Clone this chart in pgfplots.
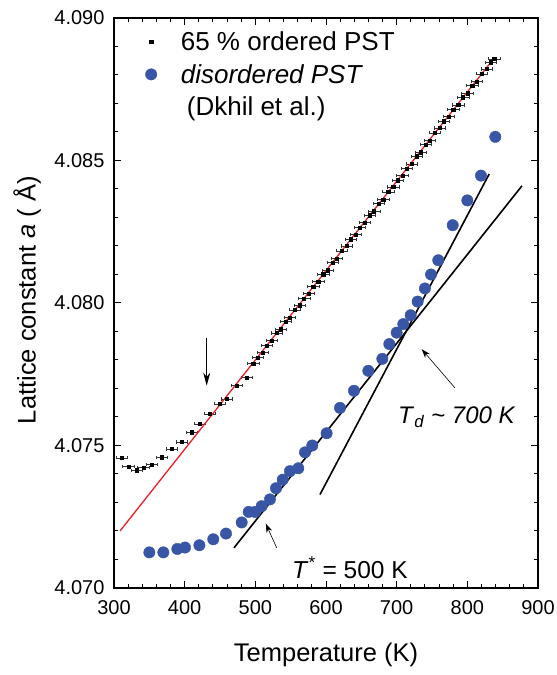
\documentclass[border=0pt]{standalone}
\usepackage{fontspec}
\setmainfont{Liberation Sans}
\usepackage{pgfplots}
\pgfplotsset{compat=1.18}
\usetikzlibrary{arrows.meta}
\definecolor{dotblue}{RGB}{56,85,166}
\definecolor{fitred}{RGB}{235,30,36}

\begin{document}
\begin{tikzpicture}
\begin{axis}[
  at={(114pt,87pt)}, anchor=south west,
  width=424pt, height=570pt, scale only axis,
  xmin=300, xmax=900, ymin=4.070, ymax=4.090,
  xtick={300,400,...,900},
  ytick={4.070,4.075,4.080,4.085,4.090},
  yticklabels={4.070,4.075,4.080,4.085,4.090},
  minor x tick num=4, minor y tick num=4,
  tick align=inside,
  major tick length=7pt, minor tick length=4pt,
  axis line style={line width=1.3pt},
  every tick/.style={black, line width=1pt},
  /pgf/number format/assume math mode=true,
  scaled y ticks=false,
  ticklabel style={font=\fontsize{20}{23}\selectfont},
  xticklabel style={yshift=-9pt},
  yticklabel style={xshift=-6pt},
  label style={font=\fontsize{25.5}{29}\selectfont},
  xlabel={Temperature (K)},
  ylabel={Lattice constant \textit{a} ( Å)},
  xlabel style={at={(axis description cs:0.5,-0.1175)}, anchor=center},
  ylabel style={at={(axis description cs:-0.205,0.505)}, anchor=center},
  legend style={draw=none, fill=none, font=\fontsize{26}{30}\selectfont,
    at={(axis description cs:0.06,0.983)}, anchor=north west,
    column sep=22pt, row sep=8pt},
  legend cell align=left,
]
% 65 % ordered PST
\addplot[only marks, mark=square*, mark size=1.6pt, black,
  error bars/.cd, x dir=both, x fixed=8,
  error bar style={line width=0.5pt, black!80}]
  coordinates {
  (310.9,4.07457) (320.3,4.07427) (332.0,4.07413) (341.5,4.07422)
  (353.3,4.07434) (367.5,4.07459) (381.6,4.07488) (395.8,4.07512)
  (409.9,4.07547) (421.7,4.07576) (435.8,4.07611) (450.0,4.07646)
  (459.4,4.07663) (473.6,4.07710) (487.7,4.07739) (497,4.07788)
  (503,4.07809) (510,4.07826) (516,4.07850) (523,4.07868)
  (530,4.07895) (536,4.07908) (543,4.07935) (549,4.07949)
  (556,4.07976) (563,4.07992) (569,4.08016) (576,4.08034)
  (582,4.08058) (589,4.08075) (596,4.08101) (602,4.08115)
  (609,4.08142) (615,4.08156) (622,4.08183) (629,4.08200)
  (635,4.08224) (642,4.08241) (648,4.08265) (655,4.08282)
  (662,4.08308) (668,4.08322) (675,4.08349) (681,4.08363)
  (688,4.08390) (695,4.08407) (701,4.08431) (708,4.08448)
  (714,4.08472) (721,4.08488) (728,4.08515) (734,4.08529)
  (741,4.08556) (747,4.08570) (754,4.08597) (761,4.08614)
  (767,4.08638) (774,4.08655) (780,4.08679) (787,4.08695)
  (794,4.08722) (800,4.08736) (807,4.08763) (813,4.08777)
  (820,4.08804) (827,4.08821) (833,4.08845) (838,4.08857)
  };
\addlegendentry{65 \% ordered PST}
% disordered PST (Dkhil et al.)
\addplot[only marks, mark=*, mark size=5.7pt, dotblue]
  coordinates {
  (350.0,4.07125) (369.8,4.07125) (389.6,4.07137) (400.5,4.07142)
  (420.8,4.07150) (440.5,4.07171) (458.5,4.07191) (480.7,4.07230)
  (490.6,4.07267) (499.5,4.07267) (509.0,4.07287) (520.7,4.07311)
  (529.2,4.07350) (538.7,4.07380) (549.0,4.07410) (560.8,4.07420)
  (570.3,4.07476) (580.6,4.07500) (600.9,4.07543) (619.8,4.07632)
  (639.6,4.07692) (659.9,4.07762) (679.7,4.07804) (689.6,4.07856)
  (700.0,4.07896) (709.4,4.07926) (719.8,4.07957) (729.7,4.08005)
  (740.0,4.08051) (748.6,4.08100) (758.9,4.08150) (779.3,4.08273)
  (800.0,4.08360) (819.3,4.08447) (839.6,4.08583)
  };
\addlegendentry{\textit{disordered PST}}
\addlegendimage{empty legend}
\addlegendentry{\hspace{6pt}(Dkhil et al.)}
% linear fit of ordered sample
\addplot[fitred, line width=1.3pt, forget plot]
  coordinates {(308.5,4.07200) (838.2,4.08860)};
% tangents to disordered data
\addplot[black, line width=1.6pt, forget plot]
  coordinates {(469.8,4.07141) (877.3,4.08411)};
\addplot[black, line width=1.6pt, forget plot]
  coordinates {(591.5,4.07328) (831.0,4.08453)};
% annotations
\draw[line width=0.9pt, -{Stealth[length=13pt, width=7pt]}]
  (axis cs:431.2,4.07878) -- (axis cs:431.2,4.07710);
\draw[line width=0.6pt, -{Stealth[length=9pt, width=6pt]}]
  (axis cs:782.5,4.07702) -- (axis cs:735.4,4.07838);
\draw[line width=0.6pt, -{Stealth[length=9pt, width=6pt]}]
  (axis cs:530.2,4.07141) -- (axis cs:514.7,4.07226);
\node[anchor=base west, inner sep=0pt, font=\fontsize{24}{28}\selectfont]
  at (axis cs:701.9,4.07577) {\textit{T}\textsubscript{\textit{d}}\textit{ \textasciitilde\ 700 K}};
\node[anchor=base west, inner sep=0pt, font=\fontsize{24.5}{28}\selectfont]
  at (axis cs:551.9,4.07035) {\textit{T}\textsuperscript{*} = 500 K};
\end{axis}
\pgfresetboundingbox
\path (0,0) rectangle (557pt,675pt);
\end{tikzpicture}
\end{document}
